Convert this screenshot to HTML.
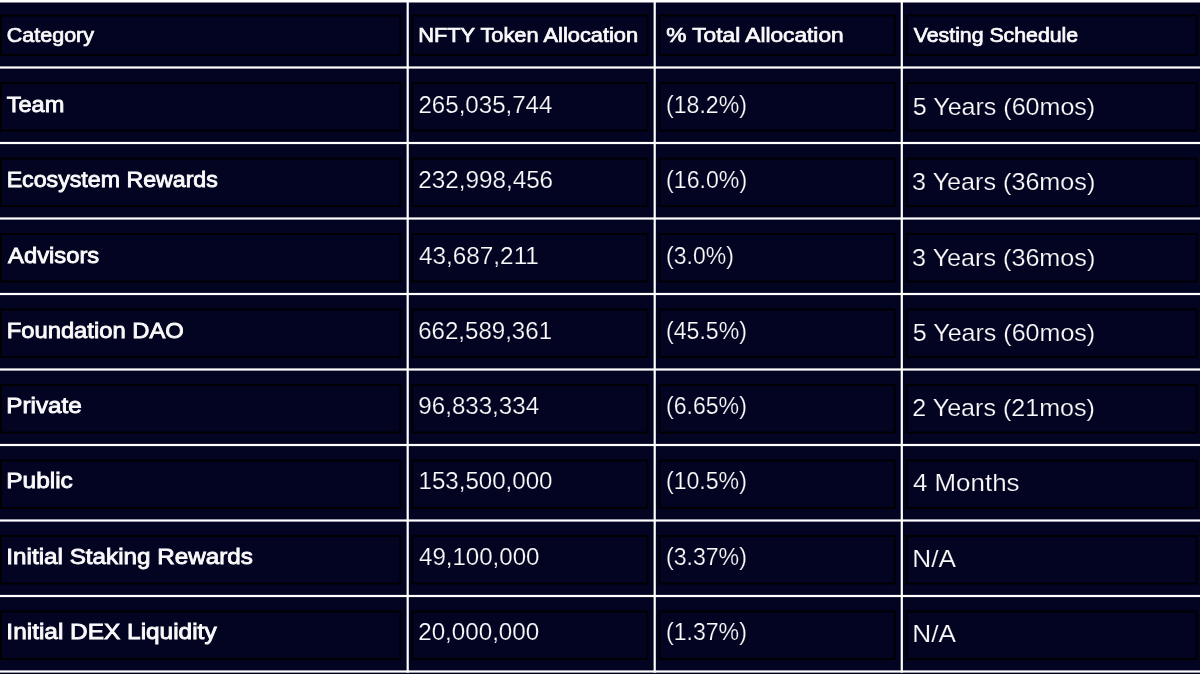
<!DOCTYPE html><html><head><meta charset="utf-8"><style>
html,body{margin:0;padding:0;background:#030322;width:1200px;height:674px;overflow:hidden}
svg{position:absolute;left:0;top:0;display:block}
text{font-family:"Liberation Sans",sans-serif;fill:#fafafa}
.h{font-weight:400;font-size:19.5px;stroke:#fafafa;stroke-width:0.7px}
.b{font-weight:400;font-size:22.0px;stroke:#fafafa;stroke-width:0.85px}
.r{font-weight:400;font-size:23.5px;stroke:#030322;stroke-width:0.2px}
.v{font-weight:400;font-size:24.5px;stroke:#030322;stroke-width:0.2px}
</style></head><body>
<svg width="1200" height="674" viewBox="0 0 1200 674">
<defs><filter id="bl" x="-5%" y="-20%" width="110%" height="140%"><feGaussianBlur stdDeviation="0.35"/></filter></defs>
<rect x="0" y="0" width="1200" height="674" fill="#030322"/>
<rect x="0.9" y="15.50" width="399.60" height="39.50" fill="none" stroke="#000000" stroke-width="1.8"/>
<rect x="412.3" y="15.50" width="235.20" height="39.50" fill="none" stroke="#000000" stroke-width="1.8"/>
<rect x="659.5" y="15.50" width="235.20" height="39.50" fill="none" stroke="#000000" stroke-width="1.8"/>
<rect x="906.7" y="15.50" width="290.00" height="39.50" fill="none" stroke="#000000" stroke-width="1.8"/>
<rect x="0.9" y="83.00" width="399.60" height="47.60" fill="none" stroke="#000000" stroke-width="1.8"/>
<rect x="412.3" y="83.00" width="235.20" height="47.60" fill="none" stroke="#000000" stroke-width="1.8"/>
<rect x="659.5" y="83.00" width="235.20" height="47.60" fill="none" stroke="#000000" stroke-width="1.8"/>
<rect x="906.7" y="83.00" width="290.00" height="47.60" fill="none" stroke="#000000" stroke-width="1.8"/>
<rect x="0.9" y="158.50" width="399.60" height="47.60" fill="none" stroke="#000000" stroke-width="1.8"/>
<rect x="412.3" y="158.50" width="235.20" height="47.60" fill="none" stroke="#000000" stroke-width="1.8"/>
<rect x="659.5" y="158.50" width="235.20" height="47.60" fill="none" stroke="#000000" stroke-width="1.8"/>
<rect x="906.7" y="158.50" width="290.00" height="47.60" fill="none" stroke="#000000" stroke-width="1.8"/>
<rect x="0.9" y="234.00" width="399.60" height="47.60" fill="none" stroke="#000000" stroke-width="1.8"/>
<rect x="412.3" y="234.00" width="235.20" height="47.60" fill="none" stroke="#000000" stroke-width="1.8"/>
<rect x="659.5" y="234.00" width="235.20" height="47.60" fill="none" stroke="#000000" stroke-width="1.8"/>
<rect x="906.7" y="234.00" width="290.00" height="47.60" fill="none" stroke="#000000" stroke-width="1.8"/>
<rect x="0.9" y="309.50" width="399.60" height="47.60" fill="none" stroke="#000000" stroke-width="1.8"/>
<rect x="412.3" y="309.50" width="235.20" height="47.60" fill="none" stroke="#000000" stroke-width="1.8"/>
<rect x="659.5" y="309.50" width="235.20" height="47.60" fill="none" stroke="#000000" stroke-width="1.8"/>
<rect x="906.7" y="309.50" width="290.00" height="47.60" fill="none" stroke="#000000" stroke-width="1.8"/>
<rect x="0.9" y="385.00" width="399.60" height="47.60" fill="none" stroke="#000000" stroke-width="1.8"/>
<rect x="412.3" y="385.00" width="235.20" height="47.60" fill="none" stroke="#000000" stroke-width="1.8"/>
<rect x="659.5" y="385.00" width="235.20" height="47.60" fill="none" stroke="#000000" stroke-width="1.8"/>
<rect x="906.7" y="385.00" width="290.00" height="47.60" fill="none" stroke="#000000" stroke-width="1.8"/>
<rect x="0.9" y="460.50" width="399.60" height="47.60" fill="none" stroke="#000000" stroke-width="1.8"/>
<rect x="412.3" y="460.50" width="235.20" height="47.60" fill="none" stroke="#000000" stroke-width="1.8"/>
<rect x="659.5" y="460.50" width="235.20" height="47.60" fill="none" stroke="#000000" stroke-width="1.8"/>
<rect x="906.7" y="460.50" width="290.00" height="47.60" fill="none" stroke="#000000" stroke-width="1.8"/>
<rect x="0.9" y="536.00" width="399.60" height="47.60" fill="none" stroke="#000000" stroke-width="1.8"/>
<rect x="412.3" y="536.00" width="235.20" height="47.60" fill="none" stroke="#000000" stroke-width="1.8"/>
<rect x="659.5" y="536.00" width="235.20" height="47.60" fill="none" stroke="#000000" stroke-width="1.8"/>
<rect x="906.7" y="536.00" width="290.00" height="47.60" fill="none" stroke="#000000" stroke-width="1.8"/>
<rect x="0.9" y="611.50" width="399.60" height="47.60" fill="none" stroke="#000000" stroke-width="1.8"/>
<rect x="412.3" y="611.50" width="235.20" height="47.60" fill="none" stroke="#000000" stroke-width="1.8"/>
<rect x="659.5" y="611.50" width="235.20" height="47.60" fill="none" stroke="#000000" stroke-width="1.8"/>
<rect x="906.7" y="611.50" width="290.00" height="47.60" fill="none" stroke="#000000" stroke-width="1.8"/>
<rect x="0" y="0" width="1200" height="2.5" fill="#ffffff"/>
<rect x="0" y="66.40" width="1200" height="2.2" fill="#ffffff"/>
<rect x="0" y="141.90" width="1200" height="2.2" fill="#ffffff"/>
<rect x="0" y="217.40" width="1200" height="2.2" fill="#ffffff"/>
<rect x="0" y="292.90" width="1200" height="2.2" fill="#ffffff"/>
<rect x="0" y="368.40" width="1200" height="2.2" fill="#ffffff"/>
<rect x="0" y="443.90" width="1200" height="2.2" fill="#ffffff"/>
<rect x="0" y="519.40" width="1200" height="2.2" fill="#ffffff"/>
<rect x="0" y="594.90" width="1200" height="2.2" fill="#ffffff"/>
<rect x="0" y="670.40" width="1200" height="2.2" fill="#ffffff"/>
<rect x="406.60" y="0" width="2.2" height="672.60" fill="#ffffff"/>
<rect x="653.60" y="0" width="2.2" height="672.60" fill="#ffffff"/>
<rect x="900.70" y="0" width="2.2" height="672.60" fill="#ffffff"/>
<g filter="url(#bl)">
<text class="h" x="6.82" y="42.00" textLength="87.18" lengthAdjust="spacingAndGlyphs">Category</text>
<text class="h" x="418.18" y="42.00" textLength="219.95" lengthAdjust="spacingAndGlyphs">NFTY Token Allocation</text>
<text class="h" x="666.18" y="42.00" textLength="177.49" lengthAdjust="spacingAndGlyphs">% Total Allocation</text>
<text class="h" x="913.78" y="42.00" textLength="164.33" lengthAdjust="spacingAndGlyphs">Vesting Schedule</text>
<text class="b" x="6.65" y="111.90" textLength="57.62" lengthAdjust="spacingAndGlyphs">Team</text>
<text class="r" x="418.47" y="112.90" textLength="133.93" lengthAdjust="spacingAndGlyphs">265,035,744</text>
<text class="r" x="666.07" y="112.90" textLength="80.81" lengthAdjust="spacingAndGlyphs">(18.2%)</text>
<text class="v" x="912.87" y="114.90" textLength="182.30" lengthAdjust="spacingAndGlyphs">5 Years (60mos)</text>
<text class="b" x="6.65" y="187.20" textLength="211.21" lengthAdjust="spacingAndGlyphs">Ecosystem Rewards</text>
<text class="r" x="418.20" y="188.20" textLength="134.93" lengthAdjust="spacingAndGlyphs">232,998,456</text>
<text class="r" x="666.08" y="188.20" textLength="81.04" lengthAdjust="spacingAndGlyphs">(16.0%)</text>
<text class="v" x="912.12" y="190.20" textLength="183.15" lengthAdjust="spacingAndGlyphs">3 Years (36mos)</text>
<text class="b" x="8.11" y="262.50" textLength="91.10" lengthAdjust="spacingAndGlyphs">Advisors</text>
<text class="r" x="418.90" y="263.50" textLength="120.01" lengthAdjust="spacingAndGlyphs">43,687,211</text>
<text class="r" x="666.07" y="263.50" textLength="67.73" lengthAdjust="spacingAndGlyphs">(3.0%)</text>
<text class="v" x="912.12" y="265.50" textLength="183.15" lengthAdjust="spacingAndGlyphs">3 Years (36mos)</text>
<text class="b" x="6.66" y="337.80" textLength="177.22" lengthAdjust="spacingAndGlyphs">Foundation DAO</text>
<text class="r" x="418.17" y="338.80" textLength="133.88" lengthAdjust="spacingAndGlyphs">662,589,361</text>
<text class="r" x="666.05" y="338.80" textLength="80.85" lengthAdjust="spacingAndGlyphs">(45.5%)</text>
<text class="v" x="912.87" y="340.80" textLength="182.30" lengthAdjust="spacingAndGlyphs">5 Years (60mos)</text>
<text class="b" x="6.32" y="413.10" textLength="75.52" lengthAdjust="spacingAndGlyphs">Private</text>
<text class="r" x="418.36" y="414.10" textLength="120.69" lengthAdjust="spacingAndGlyphs">96,833,334</text>
<text class="r" x="665.94" y="414.10" textLength="80.91" lengthAdjust="spacingAndGlyphs">(6.65%)</text>
<text class="v" x="912.26" y="416.10" textLength="182.62" lengthAdjust="spacingAndGlyphs">2 Years (21mos)</text>
<text class="b" x="6.22" y="488.40" textLength="66.62" lengthAdjust="spacingAndGlyphs">Public</text>
<text class="r" x="418.51" y="489.40" textLength="134.00" lengthAdjust="spacingAndGlyphs">153,500,000</text>
<text class="r" x="665.94" y="489.40" textLength="80.91" lengthAdjust="spacingAndGlyphs">(10.5%)</text>
<text class="v" x="912.91" y="491.40" textLength="106.63" lengthAdjust="spacingAndGlyphs">4 Months</text>
<text class="b" x="6.36" y="563.70" textLength="246.57" lengthAdjust="spacingAndGlyphs">Initial Staking Rewards</text>
<text class="r" x="419.07" y="564.70" textLength="120.34" lengthAdjust="spacingAndGlyphs">49,100,000</text>
<text class="r" x="665.94" y="564.70" textLength="80.91" lengthAdjust="spacingAndGlyphs">(3.37%)</text>
<text class="v" x="912.20" y="566.70" textLength="43.73" lengthAdjust="spacingAndGlyphs">N/A</text>
<text class="b" x="6.36" y="639.00" textLength="210.24" lengthAdjust="spacingAndGlyphs">Initial DEX Liquidity</text>
<text class="r" x="418.25" y="640.00" textLength="120.93" lengthAdjust="spacingAndGlyphs">20,000,000</text>
<text class="r" x="665.94" y="640.00" textLength="80.91" lengthAdjust="spacingAndGlyphs">(1.37%)</text>
<text class="v" x="912.20" y="642.00" textLength="43.73" lengthAdjust="spacingAndGlyphs">N/A</text>
</g>
</svg></body></html>
